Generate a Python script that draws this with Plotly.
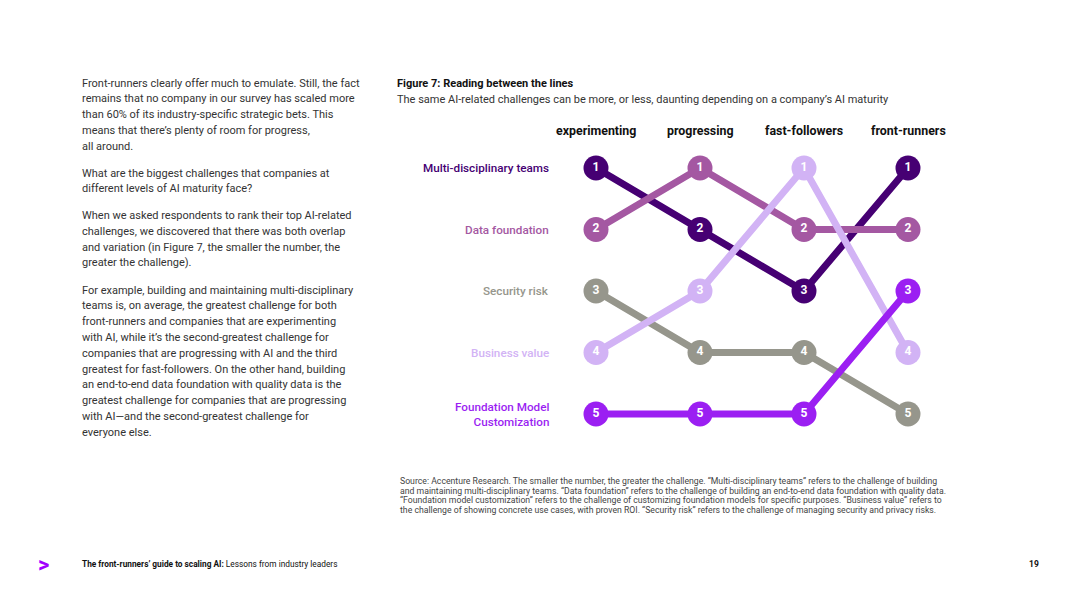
import plotly.graph_objects as go

W, H = 1080, 607
OX, OY = 8, 8  # page body margin offset

stages = ["experimenting", "progressing", "fast-followers", "front-runners"]
challenges = ["Multi-disciplinary teams", "Data foundation", "Security risk",
              "Business value", "Foundation Model<br>Customization"]
rank_multi = [1, 2, 3, 1]
rank_data = [2, 1, 2, 2]
rank_security = [3, 4, 4, 5]
rank_business = [4, 3, 1, 4]
rank_foundation = [5, 5, 5, 3]
colors = ["#460073", "#A458A2", "#96968C", "#D2B3F5", "#9B1FF2"]

series = {
    "Multi-disciplinary teams": rank_multi,
    "Data foundation": rank_data,
    "Security risk": rank_security,
    "Business value": rank_business,
    "Foundation Model<br>Customization": rank_foundation,
}
draw_order = [2, 0, 1, 3, 4]

FONT = "Roboto"

def px(x):
    return (x - OX) / W

def py(y):
    return 1 - (y - OY) / H

fig = go.Figure()
for i in draw_order:
    name = challenges[i]
    vals = series[name]
    fig.add_trace(go.Scatter(
        x=list(range(len(stages))), y=vals,
        mode="lines+markers+text",
        line=dict(color=colors[i], width=7),
        marker=dict(color=colors[i], size=25, line=dict(width=0)),
        text=[str(v) for v in vals], textposition="middle center",
        textfont=dict(color="white", size=12, family=FONT, weight="bold"),
        hoverinfo="skip", showlegend=False, cliponaxis=False,
    ))

# axes: columns at 596..908 px, rows 168..414 px
col0, col3 = 596, 908
ux = (col3 - col0) / 3
xr = [-0.3, 3.3]
xd = [px(col0 + xr[0] * ux), px(col0 + xr[1] * ux)]
row1, row5 = 168, 414
uy = (row5 - row1) / 4
yr = [5.4, 0.6]
ytop = row1 + (0.6 - 1) * uy
ybot = row1 + (5.4 - 1) * uy
yd = [py(ybot), py(ytop)]

fig.update_layout(
    width=W, height=H, margin=dict(l=0, r=0, t=0, b=0),
    paper_bgcolor="white", plot_bgcolor="white",
    xaxis=dict(range=xr, domain=xd, visible=False, fixedrange=True),
    yaxis=dict(range=yr, domain=yd, visible=False, fixedrange=True),
    font=dict(family=FONT),
)

ann = []
# column headers
for j, s in enumerate(stages):
    ann.append(dict(x=j, xref="x", y=py(131), yref="paper", text=s, showarrow=False,
                    xanchor="center", yanchor="middle",
                    font=dict(size=12.4, color="#111111", family=FONT, weight="bold")))
# row labels
for i, name in enumerate(challenges):
    ann.append(dict(x=px(551), xref="paper", y=series[name][0], yref="y", text=name,
                    showarrow=False, xanchor="right", yanchor="middle", align="right",
                    font=dict(size=11.7, color=colors[i], family=FONT, weight=500)))

def line_ann(txt, x, y, size, color="#333333", weight="normal", anchor="left"):
    ann.append(dict(x=px(x), xref="paper", y=py(y), yref="paper", text=txt,
                    showarrow=False, xanchor=anchor, yanchor="middle", align=anchor,
                    font=dict(size=size, color=color, family=FONT, weight=weight)))

paras = [
    (83, ["Front-runners clearly offer much to emulate. Still, the fact",
          "remains that no company in our survey has scaled more",
          "than 60% of its industry-specific strategic bets. This",
          "means that there’s plenty of room for progress,",
          "all around."]),
    (173, ["What are the biggest challenges that companies at",
           "different levels of AI maturity face?"]),
    (215.5, ["When we asked respondents to rank their top AI-related",
             "challenges, we discovered that there was both overlap",
             "and variation (in Figure 7, the smaller the number, the",
             "greater the challenge)."]),
    (290, ["For example, building and maintaining multi-disciplinary",
           "teams is, on average, the greatest challenge for both",
           "front-runners and companies that are experimenting",
           "with AI, while it’s the second-greatest challenge for",
           "companies that are progressing with AI and the third",
           "greatest for fast-followers. On the other hand, building",
           "an end-to-end data foundation with quality data is the",
           "greatest challenge for companies that are progressing",
           "with AI—and the second-greatest challenge for",
           "everyone else."]),
]
for y0, lines in paras:
    for k, t in enumerate(lines):
        line_ann(t, 80, y0 + k * 15.8, 11)

line_ann("Figure 7: Reading between the lines", 395, 84, 11, "#111111", "bold")
line_ann("The same AI-related challenges can be more, or less, daunting depending on a company’s AI maturity",
         395, 100, 11)

src = ["Source: Accenture Research. The smaller the number, the greater the challenge. “Multi-disciplinary teams” refers to the challenge of building",
       "and maintaining multi-disciplinary teams. “Data foundation” refers to the challenge of building an end-to-end data foundation with quality data.",
       "“Foundation model customization” refers to the challenge of customizing foundation models for specific purposes. “Business value” refers to",
       "the challenge of showing concrete use cases, with proven ROI. “Security risk” refers to the challenge of managing security and privacy risks."]
for k, t in enumerate(src):
    line_ann(t, 398, 481 + k * 9.7, 8.7, "#444444")

line_ann(">", 36, 564, 22, "#A100FF", "bold")
line_ann("<b>The front-runners’ guide to scaling AI:</b> Lessons from industry leaders", 80, 564, 8.3, "#111111")
line_ann("19", 1041, 564, 8.5, "#111111", "bold", anchor="right")

fig.update_layout(annotations=ann)
fig.write_html("out.html")
